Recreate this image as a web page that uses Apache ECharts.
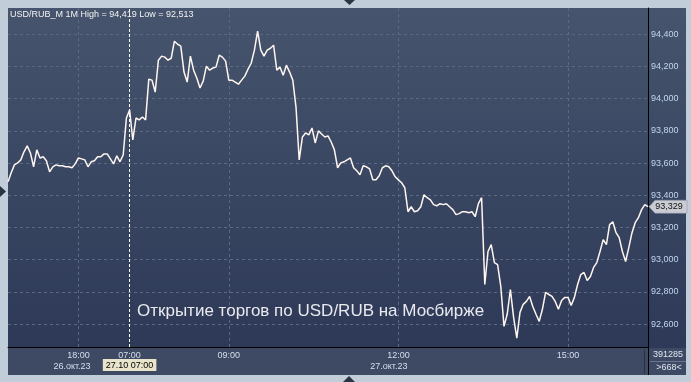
<!DOCTYPE html>
<html>
<head>
<meta charset="utf-8">
<script src="https://cdn.jsdelivr.net/npm/echarts@6/dist/echarts.min.js"></script>
<style>html,body{margin:0;padding:0;background:#c2cdda;}#c{width:691px;height:382px;}</style>
</head>
<body>
<div id="c"></div>
<script>
// ---- data ----
const prices = [
  93484, 93540, 93589, 93601, 93620, 93670, 93707, 93663, 93577, 93682,
  93632, 93639, 93614, 93546, 93577, 93589, 93583, 93583, 93577, 93577,
  93571, 93595, 93632, 93626, 93620, 93577, 93608, 93614, 93639, 93639,
  93657, 93657, 93626, 93595, 93645, 93608, 93651, 93880, 93930, 93744,
  93880, 93868, 93886, 93868, 94121, 94115, 94041, 94239, 94264, 94258,
  94239, 94251, 94357, 94338, 94326, 94165, 94103, 94264, 94177, 94128,
  94066, 94109, 94202, 94177, 94190, 94196, 94270, 94258, 94233, 94115,
  94115, 94103, 94090, 94115, 94140, 94183, 94220, 94301, 94419, 94301,
  94264, 94301, 94313, 94332, 94177, 94196, 94146, 94208, 94165, 94115,
  93948, 93620, 93762, 93787, 93775, 93818, 93725, 93800, 93781, 93762,
  93769, 93731, 93682, 93571, 93601, 93608, 93620, 93632, 93571, 93552,
  93527, 93583, 93577, 93564, 93496, 93496, 93521, 93571, 93583, 93577,
  93552, 93515, 93496, 93478, 93447, 93298, 93329, 93298, 93304, 93329,
  93403, 93385, 93372, 93342, 93335, 93348, 93342, 93348, 93329, 93311,
  93280, 93286, 93298, 93298, 93292, 93298, 93267, 93348, 93385, 92846,
  93051, 93094, 92982, 92970, 92834, 92586, 92661, 92815, 92642, 92513,
  92673, 92723, 92741, 92772, 92710, 92661, 92617, 92692, 92797, 92784,
  92772, 92741, 92692, 92747, 92766, 92766, 92716, 92766, 92846, 92908,
  92921, 92871, 92896, 92952, 92982, 93051, 93125, 93094, 93218, 93236,
  93168, 93137, 93051, 92989, 93075, 93168, 93230, 93261, 93311, 93342,
  93329
];
const bars = prices.map((_, i) => i);
const timeTickIndex = [22, 38, 69, 122, 175];
const timeTickLabels = ['18:00', '07:00', '09:00', '12:00', '15:00'];
const dateTickIndex = [20, 119];
const dateTickLabels = ['26.окт.23', '27.окт.23'];
const sessionIndex = 38;
const sessionLabel = '27.10 07:00';
const instrument = 'USD/RUB_M 1M';
const caption = 'Открытие торгов по USD/RUB на Мосбирже';
const volumeText = '391285';
const countText = '>668<';
const yMin = 92458, yMax = 94563, yStep = 200;

// ---- chart ----
const FONT = '"Liberation Sans", Arial, sans-serif';
const fmt = v => Math.round(v).toLocaleString('en-US');
const hi = Math.max(...prices), lo = Math.min(...prices);
const last = prices[prices.length - 1];

const chart = echarts.init(document.getElementById('c'));
chart.setOption({
  backgroundColor: '#c2cdda',
  animation: false,
  textStyle: { fontFamily: FONT },
  title: [
    { text: instrument + ' High = ' + fmt(hi) + ' Low = ' + fmt(lo), left: 10, top: 10, padding: 0,
      textStyle: { color: '#f2f2f2', fontSize: 9, fontWeight: 'normal', fontFamily: FONT } },
    { text: caption, left: 137, top: 303, padding: 0,
      textStyle: { color: '#e9e9ee', fontSize: 17, fontWeight: 'normal', fontFamily: FONT } }
  ],
  grid: { left: 8, right: 43, top: 8, bottom: 35, containLabel: false },
  xAxis: [
    {
      type: 'category', data: bars, boundaryGap: false,
      axisLine: { show: true, lineStyle: { color: '#000', width: 1 } },
      axisTick: { show: false },
      axisLabel: {
        interval: (i) => timeTickIndex.includes(i),
        formatter: (v, i) => { const k = timeTickIndex.indexOf(i); return k >= 0 ? timeTickLabels[k] : ''; },
        color: '#d6dfee', fontSize: 9, margin: 4, fontFamily: FONT
      },
      splitLine: {
        show: true,
        interval: (i) => timeTickIndex.includes(i) && i !== sessionIndex,
        lineStyle: { color: '#5c6984', type: [3, 3], width: 1 }
      }
    },
    {
      type: 'category', data: bars, boundaryGap: false, position: 'bottom',
      axisLine: { show: false }, axisTick: { show: false }, splitLine: { show: false },
      axisLabel: {
        interval: (i) => dateTickIndex.includes(i),
        formatter: (v, i) => { const k = dateTickIndex.indexOf(i); return k >= 0 ? dateTickLabels[k] : ''; },
        color: '#d6dfee', fontSize: 9, margin: 15, fontFamily: FONT
      }
    }
  ],
  yAxis: {
    type: 'value', position: 'right', min: yMin, max: yMax,
    splitNumber: 10, minInterval: yStep, maxInterval: yStep,
    axisLine: { show: true, lineStyle: { color: '#000', width: 1 } },
    axisTick: { show: false },
    axisLabel: { color: '#c2d5ef', fontSize: 9, margin: 3, showMinLabel: false, showMaxLabel: false,
      formatter: v => fmt(v), fontFamily: FONT },
    splitLine: { show: true, showMinLine: false, showMaxLine: false,
      lineStyle: { color: '#5c6984', type: [3, 3], width: 1 } }
  },
  series: [{
    type: 'line', data: prices, xAxisIndex: 0, showSymbol: false, clip: false,
    lineStyle: { color: '#fff6f0', width: 1.5 },
    markLine: {
      silent: true, symbol: 'none', animation: false,
      lineStyle: { color: '#ffffff', type: [3, 2], width: 1 },
      label: { show: true, position: 'start', distance: 12, formatter: sessionLabel,
        backgroundColor: '#e7e4cb', color: '#000', fontSize: 9, padding: [2, 3, 1, 3], fontFamily: FONT },
      data: [{ xAxis: sessionIndex }]
    },
    markPoint: {
      silent: true, animation: false,
      symbol: 'path://M0,6.5L6,0L38,0L38,13L6,13Z', symbolSize: [38, 13], symbolOffset: [20, 0],
      symbolKeepAspect: false,
      itemStyle: { color: '#c9cdd3', borderColor: '#8d96a6', borderWidth: 0.5 },
      label: { show: true, position: 'inside', offset: [1, 0], color: '#111', fontSize: 9,
        formatter: p => fmt(p.value), fontFamily: FONT },
      data: [{ coord: [bars.length - 1, last], value: last }]
    }
  }],
  graphic: [
    { type: 'rect', z: -2, silent: true, shape: { x: 8, y: 8, width: 678, height: 340 },
      style: { fill: new echarts.graphic.LinearGradient(0, 0, 0, 1, [
        { offset: 0, color: '#46546d' }, { offset: 1, color: '#2d3957' }]) } },
    { type: 'rect', z: -1, silent: true, shape: { x: 8, y: 348, width: 678, height: 27 },
      style: { fill: '#3e4a63' } },
    { type: 'line', z: 5, silent: true, shape: { x1: 644.5, y1: 350, x2: 644.5, y2: 374 },
      style: { stroke: '#27303f', lineWidth: 1 } },
    { type: 'line', z: 5, silent: true, shape: { x1: 648.5, y1: 347, x2: 648.5, y2: 375 },
      style: { stroke: '#000', lineWidth: 1 } },
    { type: 'line', z: 5, silent: true, shape: { x1: 650, y1: 361.5, x2: 686, y2: 361.5 },
      style: { stroke: '#6a7690', lineWidth: 1 } },
    { type: 'text', z: 5, silent: true, x: 668, y: 355,
      style: { text: volumeText, fill: '#dfe6f2', fontSize: 9, fontFamily: FONT, align: 'center', verticalAlign: 'middle' } },
    { type: 'text', z: 5, silent: true, x: 669, y: 367.5,
      style: { text: countText, fill: '#dfe6f2', fontSize: 9, fontFamily: FONT, align: 'center', verticalAlign: 'middle' } },
    { type: 'polygon', z: 5, silent: true, shape: { points: [[344, 0], [355, 0], [349.5, 5]] }, style: { fill: '#2b3444' } },
    { type: 'polygon', z: 5, silent: true, shape: { points: [[343, 382], [355, 382], [349, 376]] }, style: { fill: '#2b3444' } },
    { type: 'polygon', z: 5, silent: true, shape: { points: [[0, 186], [0, 197], [6, 191.5]] }, style: { fill: '#2b3444' } }
  ]
});
</script>
</body>
</html>
